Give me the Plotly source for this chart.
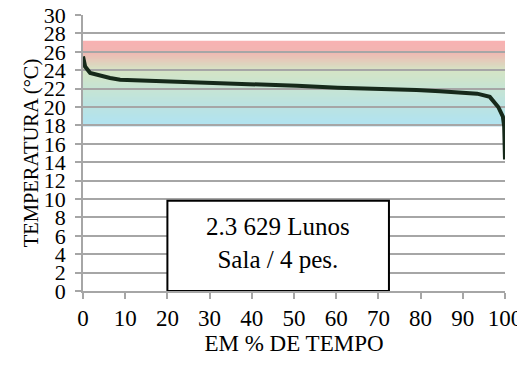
import numpy as np
import plotly.graph_objects as go

# curva de permanencia (temperatura ordenada x % do tempo)
tempo = [0, 0.5, 1.7, 4.0, 6.4, 8.8, 15.9, 23, 30, 37.2, 42, 50.7, 60.4, 71,
         79, 84.6, 89.3, 93.4, 96.4, 98.4, 99.5, 99.8, 100]
temperatura = [25.5, 24.4, 23.7, 23.4, 23.15, 22.97, 22.86, 22.8, 22.7, 22.6, 22.45,
               22.3, 22.1, 22.0, 21.85, 21.7, 21.6, 21.45, 21.1, 20.0, 18.95, 17.9, 14.3]

x_ticks = list(range(0, 101, 10))
y_ticks = list(range(0, 31, 2))

# faixa de conforto
faixa_min = 18
faixa_max = 27.2

texto_caixa = "2.3 629 Lunos<br>Sala / 4 pes."
caixa_x = [20, 72.5]
caixa_y = [0, 9.8]

fonte = "Times New Roman, Liberation Serif, DejaVu Serif, serif"

fig = go.Figure()

# gradiente vermelho -> verde -> azul em faixas finas
paradas = [(27.2, (249, 178, 178)), (26.0, (242, 182, 178)), (24.0, (213, 229, 197)),
           (21.0, (192, 228, 220)), (18.0, (177, 227, 241))]
n = 60
niveis = np.linspace(faixa_min, faixa_max, n + 1)
ys = [p[0] for p in paradas][::-1]
for i in range(n):
    ym = (niveis[i] + niveis[i + 1]) / 2
    cor = [np.interp(ym, ys, [p[1][k] for p in paradas][::-1]) for k in range(3)]
    topo = niveis[i + 1] + (0.12 if i < n - 1 else 0)
    fig.add_shape(type="rect", xref="x", yref="y", x0=0, x1=100.7,
                  y0=niveis[i], y1=topo, layer="below",
                  line_width=0,
                  fillcolor="rgb(%d,%d,%d)" % tuple(int(c) for c in cor))
fig.add_shape(type="line", xref="x", yref="y", x0=0, x1=100.7, y0=faixa_min, y1=faixa_min,
              line=dict(color="#6aaecb", width=1.5), layer="below")

fig.add_trace(go.Scatter(x=tempo, y=temperatura, mode="lines",
                         line=dict(color="#16291a", width=4), showlegend=False))

fig.add_shape(type="rect", xref="x", yref="y", x0=caixa_x[0], x1=caixa_x[1],
              y0=caixa_y[0], y1=caixa_y[1], fillcolor="white",
              line=dict(color="black", width=2), layer="above")
fig.add_annotation(x=sum(caixa_x) / 2, y=sum(caixa_y) / 2, xref="x", yref="y",
                   text=texto_caixa, showarrow=False, yshift=3,
                   font=dict(family=fonte, size=25, color="black"))

# a pagina tem margem de 8px no body: compensar
fig.update_layout(
    width=517, height=357,
    margin=dict(l=75, r=20, t=7, b=74),
    plot_bgcolor="rgba(0,0,0,0)", paper_bgcolor="white",
    font=dict(family=fonte, size=20, color="black"),
)
fig.update_xaxes(range=[0, 100], tickvals=x_ticks, showgrid=False, automargin=False,
                 showline=True, linecolor="#a6a6a6", linewidth=1.5,
                 ticks="outside", ticklen=6, tickcolor="#a6a6a6", tickwidth=1.5,
                 ticklabeloverflow="allow",
                 title=dict(text="EM % DE TEMPO", font=dict(family=fonte, size=23), standoff=4),
                 tickfont=dict(family=fonte, size=23), zeroline=False)
fig.update_yaxes(range=[0, 30], tickvals=y_ticks, showgrid=True, automargin=False,
                 gridcolor="#a6a6a6", gridwidth=1.5,
                 showline=True, linecolor="#a6a6a6", linewidth=1.5,
                 ticks="outside", ticklen=6, tickcolor="#a6a6a6", tickwidth=1.5,
                 ticklabeloverflow="allow", ticklabelstandoff=5,
                 title=dict(text="TEMPERATURA (°C)", font=dict(family=fonte, size=20.5), standoff=0),
                 tickfont=dict(family=fonte, size=22), zeroline=False)

fig.write_html("out.html")
